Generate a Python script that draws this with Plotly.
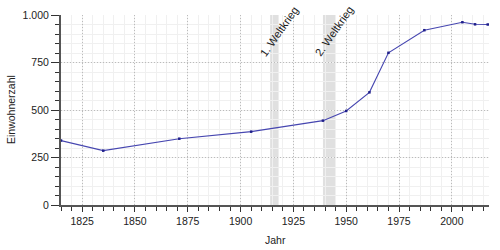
import plotly.graph_objects as go

years = [1815, 1835, 1871, 1905, 1939, 1950, 1961, 1970, 1987, 2005, 2011, 2017]
population = [339, 286, 349, 386, 444, 495, 593, 801, 920, 962, 951, 950]

war_periods = [(1914, 1918), (1939, 1945)]
war_labels = ["1. Weltkrieg", "2. Weltkrieg"]
war_label_pos = [(1918.4, 915), (1944.2, 917)]

x_ticks = [1825, 1850, 1875, 1900, 1925, 1950, 1975, 2000]
y_ticks = [0, 250, 500, 750, 1000]

L, R, T, B = 61, 11, 15, 45
pw, ph = 500 - L - R, 250 - T - B

fig = go.Figure()

for (a, b) in war_periods:
    fig.add_vrect(x0=a, x1=b, fillcolor="#e0e0e0", line_width=0, layer="below")

fig.add_trace(go.Scatter(
    x=years, y=population, mode="lines+markers",
    line=dict(color="#4646b0", width=1.1),
    marker=dict(color="#1f1f8a", size=2.5, symbol="square"),
    hoverinfo="skip", showlegend=False,
))

for label, (lx, ly) in zip(war_labels, war_label_pos):
    fig.add_annotation(x=lx, y=ly, text=label, showarrow=False, textangle=-55,
                       xanchor="center", yanchor="middle",
                       font=dict(family="Liberation Sans, Arial", size=11, color="#222"))

fig.add_annotation(xref="paper", yref="paper", x=(275 - L) / pw, y=(250 - B - 240) / ph,
                   text="Jahr", showarrow=False, xanchor="center", yanchor="middle",
                   font=dict(size=10.5, color="#222"))
fig.add_annotation(xref="paper", yref="paper", x=(11 - L) / pw, y=(250 - B - 110) / ph,
                   text="Einwohnerzahl", showarrow=False, textangle=-90,
                   xanchor="center", yanchor="middle",
                   font=dict(size=10.5, color="#222"))

fig.update_layout(
    width=500, height=250,
    margin=dict(l=L, r=R, t=T, b=B),
    plot_bgcolor="white", paper_bgcolor="white",
    separators=",.",
    font=dict(family="Liberation Sans, Arial", size=10.5, color="#222"),
    xaxis=dict(
        range=[1815, 2017.6], tickvals=x_ticks, showline=True, linecolor="#555", linewidth=2,
        ticks="outside", ticklen=5, tickcolor="#333", tickwidth=1,
        showgrid=True, gridcolor="#bbbbbb", griddash="1px,2px", gridwidth=1,
        zeroline=False, automargin=False,
        minor=dict(dtick=5, tick0=1825, ticks="outside", ticklen=4, tickcolor="#333",
                   showgrid=True, gridcolor="#f0f0f0", gridwidth=1, griddash="solid"),
    ),
    yaxis=dict(
        range=[0, 1000], tickvals=y_ticks, showline=True, linecolor="#555", linewidth=2,
        ticks="outside", ticklen=8, tickcolor="#333", tickwidth=1,
        showgrid=True, gridcolor="#bbbbbb", griddash="1px,2px", gridwidth=1,
        zeroline=False, tickformat=",d", automargin=False,
        minor=dict(dtick=50, tick0=0, ticks="outside", ticklen=4, tickcolor="#333",
                   showgrid=True, gridcolor="#f0f0f0", gridwidth=1, griddash="solid"),
    ),
)

fig.write_html("out.html")
